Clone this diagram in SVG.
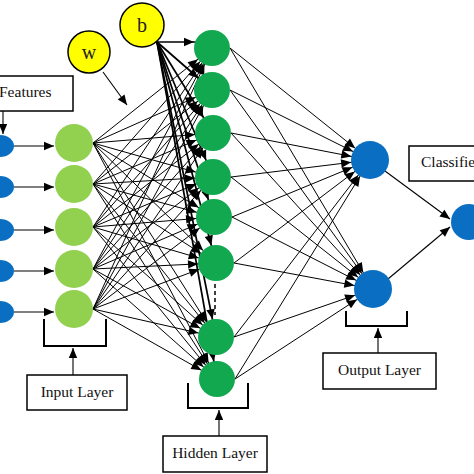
<svg xmlns="http://www.w3.org/2000/svg" width="474" height="474" viewBox="0 0 474 474">
<style>
.bg{fill:#ffffff}
.ch{stroke:#000;stroke-width:1;fill:none;marker-end:url(#ah)}
.co{stroke:#000;stroke-width:1;fill:none;marker-end:url(#ao)}
.cb{stroke:#000;stroke-width:1.7;fill:none;marker-end:url(#ah)}
.ct{stroke:#000;stroke-width:1.1;fill:none;marker-end:url(#tip)}
.br{stroke:#000;stroke-width:2;fill:none}
.box{fill:#fff;stroke:#000;stroke-width:1.5}
.lbl{font-family:"Liberation Serif","Times New Roman",serif;font-size:15.5px;fill:#111}
.sym{font-family:"Liberation Serif","Times New Roman",serif;font-size:20px;fill:#222;text-anchor:middle}
.feat{fill:#0a6fc2}
.inp{fill:#92d050}
.hid{fill:#12a850}
.out{fill:#0a6fc2}
.yel{fill:#ffff00;stroke:#000;stroke-width:1.5}
</style>
<defs>
<marker id="tip" viewBox="-12 -6 14 12" markerWidth="14" markerHeight="12" refX="0" refY="0" orient="auto" markerUnits="userSpaceOnUse"><path d="M0,0 L-10,-4.2 L-10,4.2 Z" fill="#000"/></marker>
<marker id="ah" viewBox="-40 -8 44 16" markerWidth="44" markerHeight="16" refX="0" refY="0" orient="auto" markerUnits="userSpaceOnUse"><path d="M-18,0 L-28,-4.2 L-28,4.2 Z" fill="#000"/></marker>
<marker id="ao" viewBox="-40 -8 44 16" markerWidth="44" markerHeight="16" refX="0" refY="0" orient="auto" markerUnits="userSpaceOnUse"><path d="M-19,0 L-29,-4.2 L-29,4.2 Z" fill="#000"/></marker>
</defs>
<rect class="bg" x="0" y="0" width="474" height="474"/>
<g id="connectors">
<line class="ct" x1="14" y1="146" x2="54" y2="146"/>
<line class="ct" x1="14" y1="187" x2="54" y2="187"/>
<line class="ct" x1="14" y1="230" x2="54" y2="230"/>
<line class="ct" x1="14" y1="271" x2="54" y2="271"/>
<line class="ct" x1="14" y1="312" x2="54" y2="312"/>
<line class="ct" x1="3" y1="111" x2="3" y2="134"/>
<line class="ct" x1="103" y1="72" x2="127" y2="105"/>
<line class="ch" x1="93" y1="143" x2="212" y2="48"/><line class="ch" x1="93" y1="143" x2="212" y2="90"/><line class="ch" x1="93" y1="143" x2="213" y2="133"/><line class="ch" x1="93" y1="143" x2="213" y2="177"/><line class="ch" x1="93" y1="143" x2="214" y2="217"/><line class="ch" x1="93" y1="143" x2="216" y2="263"/><line class="ch" x1="93" y1="143" x2="216" y2="337"/><line class="ch" x1="93" y1="143" x2="217" y2="379"/>
<line class="ch" x1="93" y1="184" x2="212" y2="48"/><line class="ch" x1="93" y1="184" x2="212" y2="90"/><line class="ch" x1="93" y1="184" x2="213" y2="133"/><line class="ch" x1="93" y1="184" x2="213" y2="177"/><line class="ch" x1="93" y1="184" x2="214" y2="217"/><line class="ch" x1="93" y1="184" x2="216" y2="263"/><line class="ch" x1="93" y1="184" x2="216" y2="337"/><line class="ch" x1="93" y1="184" x2="217" y2="379"/>
<line class="ch" x1="93" y1="227" x2="212" y2="48"/><line class="ch" x1="93" y1="227" x2="212" y2="90"/><line class="ch" x1="93" y1="227" x2="213" y2="133"/><line class="ch" x1="93" y1="227" x2="213" y2="177"/><line class="ch" x1="93" y1="227" x2="214" y2="217"/><line class="ch" x1="93" y1="227" x2="216" y2="263"/><line class="ch" x1="93" y1="227" x2="216" y2="337"/><line class="ch" x1="93" y1="227" x2="217" y2="379"/>
<line class="ch" x1="93" y1="269" x2="212" y2="48"/><line class="ch" x1="93" y1="269" x2="212" y2="90"/><line class="ch" x1="93" y1="269" x2="213" y2="133"/><line class="ch" x1="93" y1="269" x2="213" y2="177"/><line class="ch" x1="93" y1="269" x2="214" y2="217"/><line class="ch" x1="93" y1="269" x2="216" y2="263"/><line class="ch" x1="93" y1="269" x2="216" y2="337"/><line class="ch" x1="93" y1="269" x2="217" y2="379"/>
<line class="ch" x1="93" y1="309" x2="212" y2="48"/><line class="ch" x1="93" y1="309" x2="212" y2="90"/><line class="ch" x1="93" y1="309" x2="213" y2="133"/><line class="ch" x1="93" y1="309" x2="213" y2="177"/><line class="ch" x1="93" y1="309" x2="214" y2="217"/><line class="ch" x1="93" y1="309" x2="216" y2="263"/><line class="ch" x1="93" y1="309" x2="216" y2="337"/><line class="ch" x1="93" y1="309" x2="217" y2="379"/>
<line class="cb" x1="157" y1="42" x2="212" y2="42"/>
<line class="cb" x1="157" y1="42" x2="212" y2="90"/>
<line class="cb" x1="157" y1="42" x2="213" y2="133"/>
<line class="cb" x1="157" y1="42" x2="213" y2="177"/>
<line class="cb" x1="157" y1="42" x2="214" y2="217"/>
<line class="cb" x1="157" y1="42" x2="216" y2="263"/>
<line class="cb" x1="157" y1="42" x2="216" y2="337"/>
<line class="cb" x1="157" y1="42" x2="217" y2="379"/>
<line class="co" x1="230" y1="48" x2="370" y2="160"/><line class="co" x1="230" y1="48" x2="373" y2="289"/>
<line class="co" x1="230" y1="90" x2="370" y2="160"/><line class="co" x1="230" y1="90" x2="373" y2="289"/>
<line class="co" x1="231" y1="133" x2="370" y2="160"/><line class="co" x1="231" y1="133" x2="373" y2="289"/>
<line class="co" x1="231" y1="177" x2="370" y2="160"/><line class="co" x1="231" y1="177" x2="373" y2="289"/>
<line class="co" x1="232" y1="217" x2="370" y2="160"/><line class="co" x1="232" y1="217" x2="373" y2="289"/>
<line class="co" x1="234" y1="263" x2="370" y2="160"/><line class="co" x1="234" y1="263" x2="373" y2="289"/>
<line class="co" x1="234" y1="337" x2="370" y2="160"/><line class="co" x1="234" y1="337" x2="373" y2="289"/>
<line class="co" x1="235" y1="379" x2="370" y2="160"/><line class="co" x1="235" y1="379" x2="373" y2="289"/>
<line class="ct" x1="385" y1="171" x2="450" y2="219"/>
<line class="ct" x1="388" y1="279" x2="450" y2="227"/>
<line x1="215" y1="284" x2="215" y2="315" stroke="#000" stroke-width="1.5" stroke-dasharray="4,3"/>
<path class="br" d="M44,319 V346 H106 V319"/>
<line class="ct" x1="73" y1="375" x2="73" y2="348"/>
<path class="br" d="M188,383 V408 H248 V383"/>
<line class="ct" x1="219" y1="436" x2="219" y2="410"/>
<path class="br" d="M346,311 V326 H407 V311"/>
<line class="ct" x1="378" y1="353" x2="378" y2="328"/>
</g>
<g id="features">
<ellipse class="feat" cx="0" cy="146" rx="14" ry="11"/>
<ellipse class="feat" cx="0" cy="187" rx="14" ry="11"/>
<ellipse class="feat" cx="0" cy="230" rx="14" ry="11"/>
<ellipse class="feat" cx="0" cy="271" rx="14" ry="11"/>
<ellipse class="feat" cx="0" cy="312" rx="14" ry="11"/>
</g>
<g id="input-nodes">
<circle class="inp" cx="74" cy="143" r="19"/>
<circle class="inp" cx="74" cy="184" r="19"/>
<circle class="inp" cx="74" cy="227" r="19"/>
<circle class="inp" cx="74" cy="269" r="19"/>
<circle class="inp" cx="74" cy="309" r="19"/>
</g>
<g id="hidden-nodes">
<circle class="hid" cx="212" cy="48" r="18"/>
<circle class="hid" cx="212" cy="90" r="18"/>
<circle class="hid" cx="213" cy="133" r="18"/>
<circle class="hid" cx="213" cy="177" r="18"/>
<circle class="hid" cx="214" cy="217" r="18"/>
<circle class="hid" cx="216" cy="263" r="18"/>
<circle class="hid" cx="216" cy="337" r="18"/>
<circle class="hid" cx="217" cy="379" r="18"/>
</g>
<g id="output-nodes">
<circle class="out" cx="370" cy="160" r="19"/>
<circle class="out" cx="373" cy="289" r="19"/>
</g>
<g id="classifier-node">
<circle class="out" cx="469" cy="222" r="18"/>
</g>
<g id="w-node">
<circle class="yel" cx="89" cy="52" r="21"/>
<text class="sym" x="89" y="59" font-family="Liberation Serif, serif">w</text>
</g>
<g id="b-node">
<circle class="yel" cx="142" cy="25" r="22"/>
<text class="sym" x="142" y="32" font-family="Liberation Serif, serif">b</text>
</g>
<g id="features-label">
<rect class="box" x="-2" y="76" width="75" height="35"/>
<text class="lbl" x="-1" y="97" font-family="Liberation Serif, serif">Features</text>
</g>
<g id="input-label">
<rect class="box" x="27" y="375" width="100" height="35"/>
<text class="lbl" x="77" y="397" text-anchor="middle" font-family="Liberation Serif, serif">Input Layer</text>
</g>
<g id="hidden-label">
<rect class="box" x="163" y="436" width="104" height="36"/>
<text class="lbl" x="215" y="458" text-anchor="middle" font-family="Liberation Serif, serif">Hidden Layer</text>
</g>
<g id="output-label">
<rect class="box" x="323" y="353" width="113" height="36"/>
<text class="lbl" x="379.5" y="375" text-anchor="middle" font-family="Liberation Serif, serif">Output Layer</text>
</g>
<g id="classifier-label">
<rect class="box" x="409" y="146" width="80" height="35"/>
<text class="lbl" x="421" y="167" font-family="Liberation Serif, serif">Classifier</text>
</g>
</svg>
